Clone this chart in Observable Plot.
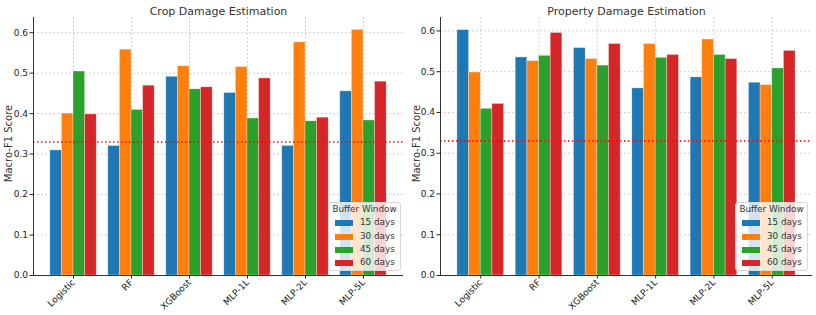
<!DOCTYPE html>
<html><head><meta charset="utf-8">
<script src="https://cdn.jsdelivr.net/npm/d3@7"></script>
<script src="https://cdn.jsdelivr.net/npm/@observablehq/plot@0.6"></script>
<style>
body{margin:0;background:#fff;font-family:"DejaVu Sans",sans-serif;}
#wrap{position:relative;width:816px;height:315px;overflow:hidden;}
.panel{position:absolute;top:0;}
.legend{position:absolute;background:rgba(255,255,255,0.8);border:1px solid #d8d8d8;border-radius:3px;font-size:8.8px;color:#333;box-sizing:border-box;padding-top:0;}
.legend .t{text-align:center;line-height:13.3px;height:13.3px;}
.legend .row{position:relative;height:13.3px;line-height:13.3px;}
.legend .sw{position:absolute;left:6px;top:4px;width:18px;height:6px;}
.legend .lb{position:absolute;left:31px;top:0;}
</style>
</head><body>
<div id="wrap"></div>
<script>
const models = ["Logistic","RF","XGBoost","MLP-1L","MLP-2L","MLP-5L"];
const windows = ["15 days","30 days","45 days","60 days"];
const colors = ["#1f77b4","#ff7f0e","#2ca02c","#d62728"];
const legendTitle = "Buffer Window";
const yLabel = "Macro-F1 Score";
const titles = ["Crop Damage Estimation","Property Damage Estimation"];

const crop15 = [0.309,0.320,0.491,0.451,0.320,0.455];
const crop30 = [0.400,0.558,0.517,0.515,0.576,0.607];
const crop45 = [0.504,0.409,0.460,0.388,0.381,0.383];
const crop60 = [0.398,0.469,0.465,0.487,0.390,0.479];

const prop15 = [0.602,0.535,0.558,0.459,0.486,0.473];
const prop30 = [0.498,0.526,0.531,0.568,0.579,0.467];
const prop45 = [0.409,0.539,0.515,0.534,0.541,0.508];
const prop60 = [0.421,0.595,0.568,0.541,0.531,0.551];

const baseline = 0.33;
const yTicks = [0,0.1,0.2,0.3,0.4,0.5,0.6];

const barW = 0.2;
const xDomain = [-0.69, 5.69];

function rows(series){
  const out = [];
  series.forEach((vals, j) => vals.forEach((v, i) => {
    const c = i + (j - 1.5) * barW;
    out.push({model: models[i], win: windows[j], x1: c - barW/2, x2: c + barW/2, y: v});
  }));
  return out;
}

function panel(series, title, yMax, left, mL, mR){
  const data = rows(series);
  const p = Plot.plot({
    width: 408, height: 315,
    marginLeft: mL, marginRight: mR, marginTop: 17, marginBottom: 40,
    style: {fontFamily: "DejaVu Sans, sans-serif", fontSize: "9px", color: "#222", background: "transparent"},
    x: {domain: xDomain},
    y: {domain: [0, yMax]},
    color: {domain: windows, range: colors},
    marks: [
      Plot.ruleY(yTicks, {stroke: "#bbb", strokeDasharray: "2,2", strokeWidth: 0.7}),
      Plot.ruleX(d3.range(models.length), {stroke: "#bbb", strokeDasharray: "2,2", strokeWidth: 0.7}),
      Plot.rectY(data, {x1: "x1", x2: "x2", y: "y", fill: "win", stroke: "white", strokeOpacity: 0.5, strokeWidth: 0.6}),
      Plot.ruleY([baseline], {stroke: "red", strokeDasharray: "1.5,2.5", strokeWidth: 1.4}),
      Plot.ruleY([0], {stroke: "#333", strokeWidth: 1}),
      Plot.ruleX([xDomain[0]], {stroke: "#333", strokeWidth: 1}),
      Plot.axisY({ticks: yTicks, tickFormat: d3.format(".1f"), tickSize: 3.5, tickPadding: 2, label: null, fontSize: 9}),
      Plot.axisX({ticks: d3.range(models.length), tickFormat: i => models[i], tickSize: 3.5, tickRotate: -45, tickPadding: 2, label: null, fontSize: 9}),
      Plot.text([yLabel], {frameAnchor: "left", rotate: -90, textAnchor: "middle", lineAnchor: "middle", dx: -mL + 8, dy: -3, fontSize: 10, fill: "#333"}),
      Plot.text([title], {frameAnchor: "top", lineAnchor: "bottom", dy: -3, fontSize: 11, fill: "#333"})
    ]
  });
  const d = document.createElement("div");
  d.className = "panel";
  d.style.left = left + "px";
  d.appendChild(p);
  document.getElementById("wrap").appendChild(d);
}

function legend(left, top, w){
  const L = document.createElement("div");
  L.className = "legend";
  L.style.left = left + "px"; L.style.top = top + "px"; L.style.width = w + "px"; L.style.height = "69px";
  const t = document.createElement("div"); t.className = "t"; t.textContent = legendTitle; L.appendChild(t);
  windows.forEach((wn, j) => {
    const r = document.createElement("div"); r.className = "row";
    const s = document.createElement("div"); s.className = "sw"; s.style.background = colors[j];
    const l = document.createElement("div"); l.className = "lb"; l.textContent = wn;
    r.appendChild(s); r.appendChild(l); L.appendChild(r);
  });
  document.getElementById("wrap").appendChild(L);
}

panel([crop15, crop30, crop45, crop60], titles[0], 0.6375, 0, 33, 5);
panel([prop15, prop30, prop45, prop60], titles[1], 0.633, 408, 32, 4);
legend(328, 202, 73);
legend(735, 202, 73);
</script>
</body></html>
